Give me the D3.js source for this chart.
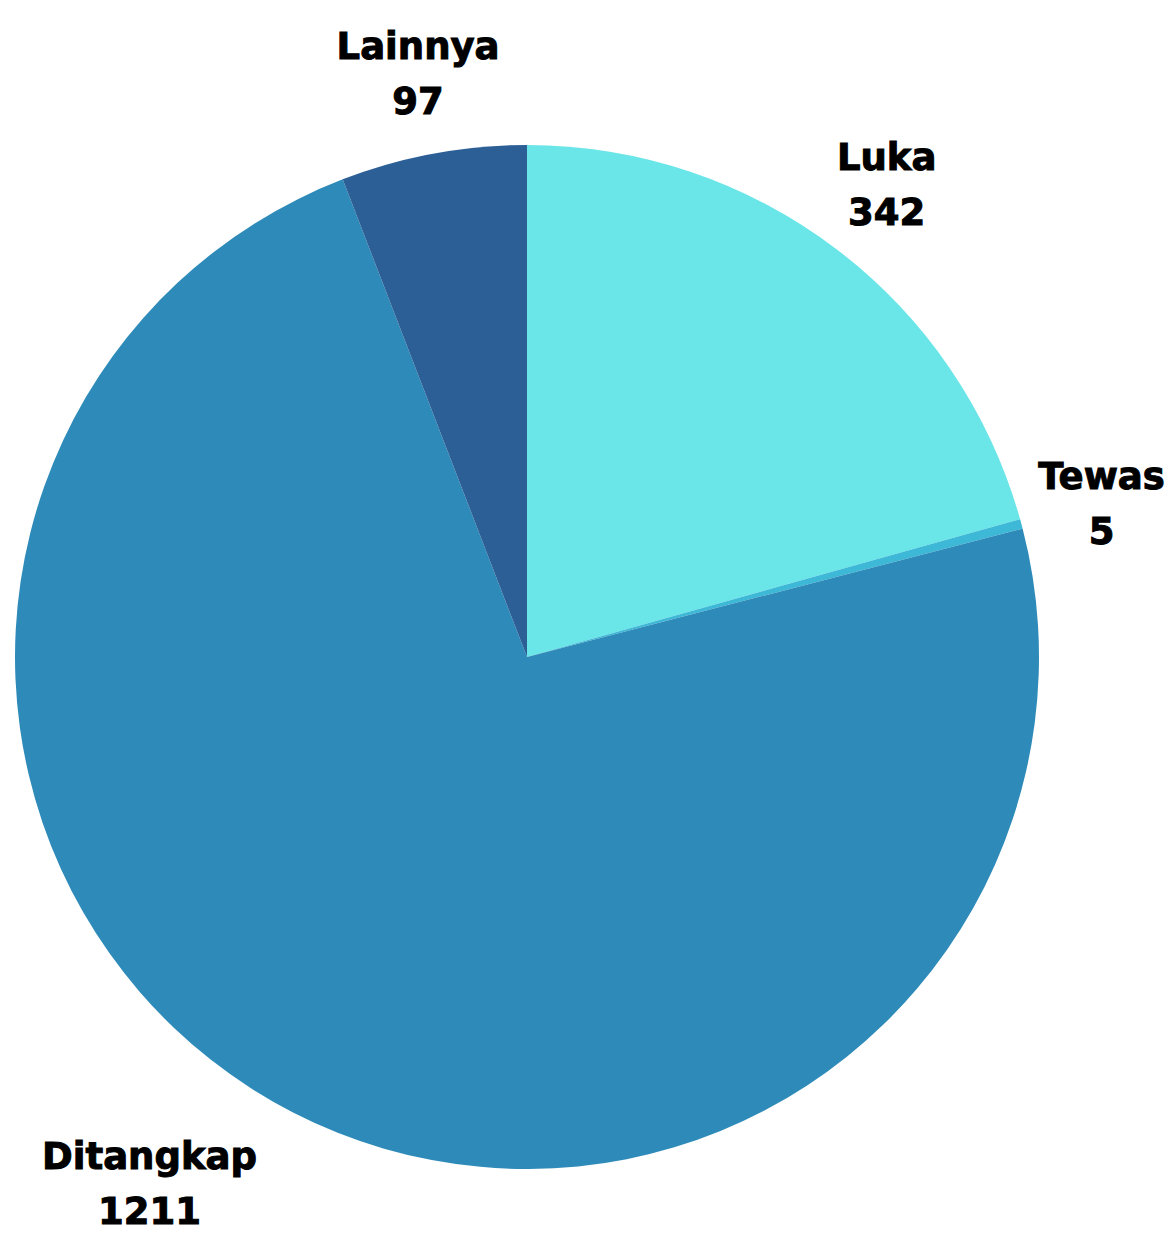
<!DOCTYPE html>
<html>
<head>
<meta charset="utf-8">
<script src="https://cdn.jsdelivr.net/npm/d3@7"></script>
<style>
  body { margin: 0; background: #fff; }
  text { font-family: "DejaVu Sans", sans-serif; font-weight: bold; fill: #000; stroke: #000; stroke-width: 1px; }
</style>
</head>
<body>
<div id="chart"></div>
<script>
// data, clockwise from 12 o'clock
var categories = ["Luka", "Tewas", "Ditangkap", "Lainnya"];
var values = [342, 5, 1211, 97];
var colors = ["#6ae5e8", "#3db8d7", "#2e8bb9", "#2d5f97"];

var width = 1175, height = 1236;
var cx = 527, cy = 657, radius = 512;
var labelRadius = 595;

// Ditangkap's label sits further round than its centroid
var labelNudge = { "Ditangkap": { angle: 8.5 * Math.PI / 180, r: 52 } };

var data = categories.map(function(c, i) { return { name: c, value: values[i] }; });

var svg = d3.select("#chart")
  .append("svg")
  .attr("width", width)
  .attr("height", height);

var g = svg.append("g")
  .attr("transform", "translate(" + cx + "," + cy + ")");

var pie = d3.pie()
  .value(function(d) { return d.value; })
  .sort(null);

var arc = d3.arc()
  .innerRadius(0)
  .outerRadius(radius);

var arcs = pie(data);

g.selectAll("path")
  .data(arcs)
  .enter()
  .append("path")
  .attr("d", arc)
  .attr("fill", function(d, i) { return colors[i]; });

// labels: name and value on two lines
var label = g.selectAll(".label")
  .data(arcs)
  .enter()
  .append("g")
  .attr("class", "label")
  .attr("transform", function(d) {
    var a = (d.startAngle + d.endAngle) / 2;
    var r = labelRadius;
    var n = labelNudge[d.data.name];
    if (n) { a += n.angle; r += n.r; }
    return "translate(" + (r * Math.sin(a)) + "," + (-r * Math.cos(a)) + ")";
  });

label.append("text")
  .attr("text-anchor", "middle")
  .attr("y", -13)
  .style("font-size", "37px")
  .text(function(d) { return d.data.name; });

label.append("text")
  .attr("text-anchor", "middle")
  .attr("y", 42)
  .style("font-size", "37px")
  .text(function(d) { return d.data.value; });
</script>
</body>
</html>
